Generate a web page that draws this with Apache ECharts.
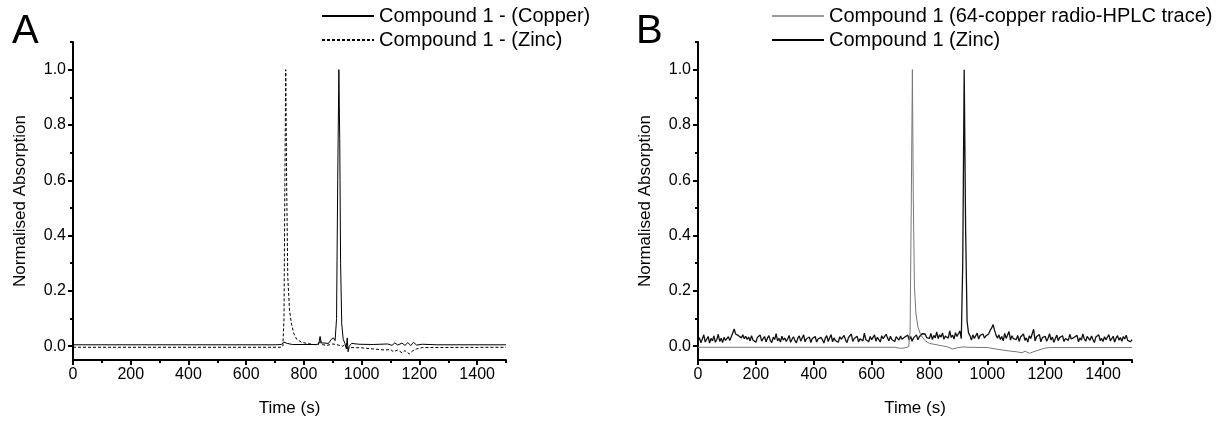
<!DOCTYPE html>
<html>
<head>
<meta charset="utf-8">
<title>HPLC traces</title>
<script src="https://cdn.jsdelivr.net/npm/echarts@6/dist/echarts.min.js"></script>
<style>
  html, body { margin: 0; padding: 0; background: #fff; }
  #chart { width: 1216px; height: 422px; }
</style>
</head>
<body>
<div id="chart"></div>
<script>
// tick positions
var xMajorTicks = [0, 200, 400, 600, 800, 1000, 1200, 1400]
var xMinorTicks = [100, 300, 500, 700, 900, 1100, 1300, 1500]
var yMajorTicks = [0, 0.2, 0.4, 0.6, 0.8, 1.0]
var yMinorTicks = [0.1, 0.3, 0.5, 0.7, 0.9, 1.1]

// panel A  [time (s), normalised absorption]
var copperA = [
  [0, 0.005], [700, 0.005], [722, 0.006], [730, 0.015], [736, 0.018], [742, 0.01],
  [760, 0.006], [800, 0.006], [845, 0.006], [852, 0.01], [856, 0.035], [860, 0.012],
  [866, 0.006], [885, 0.01], [895, 0.025], [902, 0.03], [908, 0.02], [913, 0.1],
  [917, 0.6], [921, 1.0], [924, 0.75], [927, 0.3], [931, 0.08], [936, 0.025],
  [942, 0.01], [947, -0.01], [950, 0.03], [953, -0.02], [957, 0.0], [965, 0.01],
  [990, 0.007], [1040, 0.006], [1090, 0.008], [1105, 0.003], [1115, 0.012],
  [1125, 0.004], [1140, 0.011], [1150, 0.003], [1160, 0.013], [1170, 0.002],
  [1180, 0.014], [1190, 0.004], [1210, 0.007], [1260, 0.005], [1500, 0.005]
]
var zincA = [
  [0, -0.004], [720, -0.004], [727, 0.0], [731, 0.1], [734, 0.6], [737, 1.0],
  [740, 0.6], [744, 0.25], [750, 0.13], [757, 0.08], [765, 0.045], [775, 0.025],
  [790, 0.015], [810, 0.01], [835, 0.006], [850, 0.005], [856, 0.03], [860, 0.006],
  [880, 0.003], [900, 0.008], [915, 0.005], [935, 0.0], [948, 0.01], [953, -0.01],
  [960, -0.005], [1000, -0.006], [1040, -0.01], [1080, -0.014], [1100, -0.012],
  [1110, -0.02], [1125, -0.014], [1140, -0.024], [1150, -0.016], [1165, -0.028],
  [1175, -0.018], [1190, -0.01], [1210, -0.005], [1500, -0.004]
]

// panel B, radio trace sampled every 5 s from 0 to 1500 s
var radioStep = 5
var radioB = [
  .018, .031, .012, .026, .041, .015, .022, .035, .011, .028, .019, .037, .014, .024, .043, .017, .029, .013, .032, .021,
  .016, .034, .020, .027, .048, .062, .044, .051, .038, .045, .030, .041, .027, .036, .024, .033, .019, .038, .022, .029,
  .014, .031, .025, .040, .018, .027, .035, .016, .029, .038, .021, .013, .033, .024, .045, .019, .028, .015, .036, .022,
  .030, .017, .026, .039, .014, .025, .034, .020, .012, .029, .037, .018, .024, .041, .016, .027, .022, .033, .013, .028,
  .021, .035, .015, .026, .019, .032, .024, .011, .029, .038, .017, .023, .042, .016, .030, .020, .027, .014, .034, .025,
  .018, .039, .022, .013, .031, .026, .044, .017, .028, .021, .036, .015, .027, .033, .019, .047, .024, .030, .016, .035,
  .023, .029, .041, .018, .032, .026, .015, .038, .027, .021, .043, .030, .019, .036, .024, .031, .017, .034, .028, .022,
  .037, .025, .019, .033, .027, .040, .022, .035, .018, .030, .026, .041, .023, .034, .029, .045, .038, .044, .031, .036,
  .028, .046, .024, .039, .030, .052, .027, .041, .033, .048, .025, .037, .044, .029, .055, .032, .040, .026, .049, .035,
  .030, .055, .027, .300, 1.00, .420, .090, .048, .038, .022, .041, .028, .035, .047, .026, .039, .033, .044, .029, .037,
  .036, .045, .058, .066, .078, .057, .040, .029, .041, .024, .035, .019, .046, .028, .032, .053, .022, .038, .027, .031,
  .024, .039, .017, .033, .026, .044, .021, .030, .015, .037, .028, .023, .061, .019, .034, .027, .042, .016, .031, .025,
  .036, .018, .029, .045, .022, .033, .014, .027, .040, .020, .031, .024, .038, .017, .028, .035, .021, .043, .026, .019,
  .032, .025, .039, .016, .030, .022, .044, .027, .018, .035, .029, .021, .037, .024, .013, .033, .026, .041, .020, .028,
  .017, .034, .023, .030, .042, .019, .027, .036, .015, .029, .038, .022, .031, .018, .035, .026, .040, .021, .028, .016,
  .024
]
var zincB = [
  [0, -0.004], [680, -0.004], [700, -0.008], [715, -0.006], [728, -0.002], [733, 0.05],
  [737, 0.5], [741, 1.0], [744, 0.55], [748, 0.22], [753, 0.12], [760, 0.07], [770, 0.04],
  [785, 0.02], [800, 0.01], [830, 0.004], [860, -0.002], [880, -0.01], [895, -0.006],
  [915, -0.003], [940, -0.004], [1000, -0.005], [1040, -0.012], [1080, -0.018],
  [1100, -0.02], [1120, -0.024], [1130, -0.018], [1145, -0.026], [1160, -0.02],
  [1175, -0.015], [1195, -0.008], [1215, -0.005], [1500, -0.005]
]

var FONT = 'Liberation Sans'
var radioPairs = radioB.map(function(v, i) { return [i * radioStep, v] })

function xAxes(grid) {
  return [
    {
      type: 'value', gridIndex: grid, position: 'bottom', min: 0, max: 1500,
      name: 'Time (s)', nameLocation: 'middle', nameGap: 40,
      nameTextStyle: { fontFamily: FONT, fontSize: 17, color: '#000' },
      axisLine: { onZero: false, lineStyle: { color: '#000', width: 2 } },
      axisTick: { customValues: xMajorTicks, length: 5, lineStyle: { width: 2, color: '#000' } },
      axisLabel: {
        customValues: xMajorTicks, fontFamily: FONT, fontSize: 16, color: '#000', margin: 7,
        formatter: function(v) { return String(v) }
      },
      splitLine: { show: false }
    },
    {
      type: 'value', gridIndex: grid, position: 'bottom', offset: 0, min: 0, max: 1500,
      axisLine: { show: false, onZero: false },
      axisTick: { customValues: xMinorTicks, length: 3, lineStyle: { width: 2, color: '#000' } },
      axisLabel: { show: false },
      splitLine: { show: false }
    }
  ]
}

function yAxes(grid) {
  return [
    {
      type: 'value', gridIndex: grid, position: 'left', min: -0.05, max: 1.1,
      name: 'Normalised Absorption', nameLocation: 'middle', nameGap: 44,
      nameTextStyle: { fontFamily: FONT, fontSize: 17, color: '#000' },
      axisLine: { show: true, onZero: false, lineStyle: { color: '#000', width: 2 } },
      axisTick: { show: true, customValues: yMajorTicks, length: 5, lineStyle: { width: 2, color: '#000' } },
      axisLabel: {
        customValues: yMajorTicks, fontFamily: FONT, fontSize: 16, color: '#000', margin: 7,
        formatter: function(v) { return v.toFixed(1) }
      },
      splitLine: { show: false }
    },
    {
      type: 'value', gridIndex: grid, position: 'left', offset: 0, min: -0.05, max: 1.1,
      axisLine: { show: false, onZero: false },
      axisTick: { show: true, customValues: yMinorTicks, length: 3, lineStyle: { width: 2, color: '#000' } },
      axisLabel: { show: false },
      splitLine: { show: false }
    }
  ]
}

function trace(name, data, grid, color, width, type) {
  return {
    name: name, type: 'line', data: data,
    xAxisIndex: grid * 2, yAxisIndex: grid * 2,
    symbol: 'none', smooth: false, silent: true,
    lineStyle: { color: color, width: width, type: type || 'solid' },
    itemStyle: { color: color }
  }
}

function legendAt(left, names) {
  return {
    left: left, top: 6, orient: 'vertical', padding: 0,
    itemWidth: 52, itemHeight: 14, itemGap: 4,
    itemStyle: { opacity: 0 },
    textStyle: { fontFamily: FONT, fontSize: 20, color: '#000' },
    data: names
  }
}

var chart = echarts.init(document.getElementById('chart'))
chart.setOption({
  animation: false,
  backgroundColor: '#fff',
  grid: [
    { left: 73, top: 42, width: 433, height: 320 },
    { left: 698, top: 42, width: 434, height: 320 }
  ],
  xAxis: xAxes(0).concat(xAxes(1)),
  yAxis: yAxes(0).concat(yAxes(1)),
  legend: [
    legendAt(321, ['Compound 1 - (Copper)', 'Compound 1 - (Zinc)']),
    legendAt(771, [
      { name: 'Compound 1 (64-copper radio-HPLC trace)', lineStyle: { color: '#999' } },
      { name: 'Compound 1 (Zinc)', lineStyle: { color: '#000' } }
    ])
  ],
  graphic: [
    { type: 'text', left: 12, top: 12, style: { text: 'A', fontFamily: FONT, fontSize: 40, fill: '#000' } },
    { type: 'text', left: 636, top: 12, style: { text: 'B', fontFamily: FONT, fontSize: 40, fill: '#000' } }
  ],
  series: [
    trace('Compound 1 - (Copper)', copperA, 0, '#000', 1),
    trace('Compound 1 - (Zinc)', zincA, 0, '#000', 1, [3, 2]),
    trace('Compound 1 (64-copper radio-HPLC trace)', radioPairs, 1, '#111', 1.3),
    trace('Compound 1 (Zinc)', zincB, 1, '#777', 1)
  ]
})
</script>
</body>
</html>
